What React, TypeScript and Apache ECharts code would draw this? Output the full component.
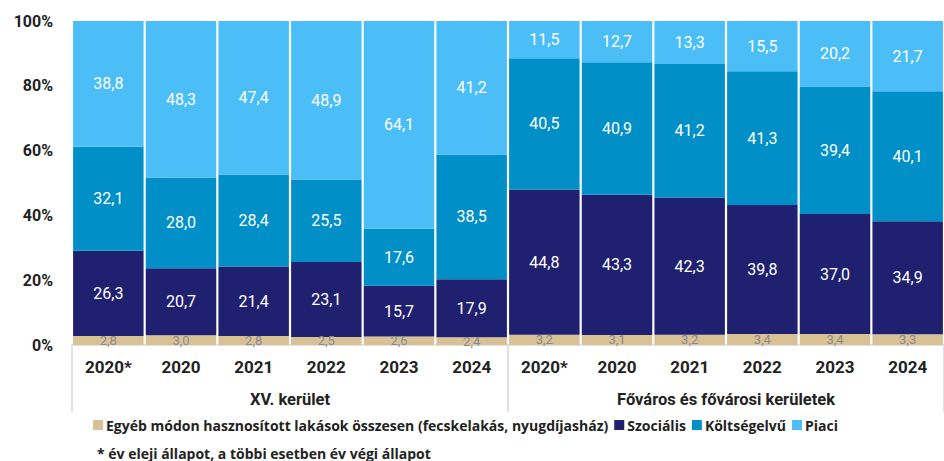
import React, { useEffect, useRef } from "react";
import * as echarts from "echarts";

const years = ["2020*", "2020", "2021", "2022", "2023", "2024", "2020*", "2020", "2021", "2022", "2023", "2024"];
const groups = ["XV. kerület", "Főváros és fővárosi kerületek"];
const seriesNames = [
  "Egyéb módon hasznosított lakások összesen (fecskelakás, nyugdíjasház)",
  "Szociális",
  "Költségelvű",
  "Piaci",
];
const egyeb = [2.8, 3.0, 2.8, 2.5, 2.6, 2.4, 3.2, 3.1, 3.2, 3.4, 3.4, 3.3];
const szocialis = [26.3, 20.7, 21.4, 23.1, 15.7, 17.9, 44.8, 43.3, 42.3, 39.8, 37.0, 34.9];
const koltsegelvu = [32.1, 28.0, 28.4, 25.5, 17.6, 38.5, 40.5, 40.9, 41.2, 41.3, 39.4, 40.1];
const piaci = [38.8, 48.3, 47.4, 48.9, 64.1, 41.2, 11.5, 12.7, 13.3, 15.5, 20.2, 21.7];
const footnote = "* év eleji állapot, a többi esetben év végi állapot";

const colors = ["#D9C196", "#202070", "#008FC6", "#4BBEF8"];
const FONT = "Roboto, 'Noto Sans', sans-serif";
const FONT2 = "'Open Sans', Roboto, sans-serif";

const fmt = (p: any) => Number(p.value).toFixed(1).replace(".", ",");

export default function App() {
  const ref = useRef<HTMLDivElement>(null);
  useEffect(() => {
    if (!ref.current) return;
    const chart = echarts.init(ref.current, null, { renderer: "svg" });
    const values = [egyeb, szocialis, koltsegelvu, piaci];
    chart.setOption({
      animation: false,
      textStyle: { fontFamily: FONT },
      grid: { left: 72, right: -12, top: 21, bottom: 116 },
      title: {
        text: footnote,
        left: 92,
        top: 441,
        textStyle: { fontFamily: FONT2, fontSize: 14, fontWeight: "bold", color: "#222" },
      },
      legend: {
        left: 88,
        top: 413,
        itemWidth: 10,
        itemHeight: 10,
        itemGap: 6,
        icon: "rect",
        textStyle: { fontFamily: FONT2, fontSize: 14, fontWeight: "bold", color: "#222", padding: [0, 0, 0, -2] },
        data: seriesNames,
      },
      xAxis: [
        {
          type: "category",
          data: years,
          axisLine: { show: true, lineStyle: { color: "#d9d9d9", width: 1.5 } },
          axisTick: { show: false },
          axisLabel: {
            color: "#222",
            fontSize: 17,
            fontWeight: "bold",
            fontFamily: FONT,
            margin: 13,
            interval: 0,
          },
        },
        {
          type: "category",
          data: groups,
          position: "bottom",
          axisLine: { show: false },
          axisTick: { show: true, length: 67, lineStyle: { color: "#d9d9d9", width: 1.5 } },
          axisLabel: {
            color: "#222",
            fontSize: 16.5,
            fontWeight: "bold",
            fontFamily: FONT,
            margin: 46,
            interval: 0,
          },
        },
      ],
      yAxis: {
        type: "value",
        min: 0,
        max: 100,
        interval: 20,
        axisLine: { show: false },
        axisTick: { show: false },
        splitLine: { show: false },
        axisLabel: {
          formatter: "{value}%",
          color: "#222",
          fontSize: 16,
          fontWeight: "bold",
          fontFamily: FONT,
          margin: 19,
        },
      },
      series: seriesNames.map((name, i) => ({
        name,
        type: "bar",
        stack: "total",
        xAxisIndex: 0,
        barCategoryGap: "3%",
        data: values[i],
        itemStyle: { color: colors[i] },
        label: {
          show: true,
          position: "inside",
          formatter: fmt,
          color: i === 0 ? "#8a8a8a" : "#ffffff",
          fontSize: i === 0 ? 13 : 16,
          fontFamily: FONT,
          offset: i === 0 ? [0, 3] : [0, 0],
        },
        labelLayout: { hideOverlap: false },
      })),
    });
    return () => chart.dispose();
  }, []);
  return (
    <div
      ref={ref}
      style={{ position: "fixed", left: 0, top: 0, width: 944, height: 461, background: "#fff" }}
    />
  );
}
